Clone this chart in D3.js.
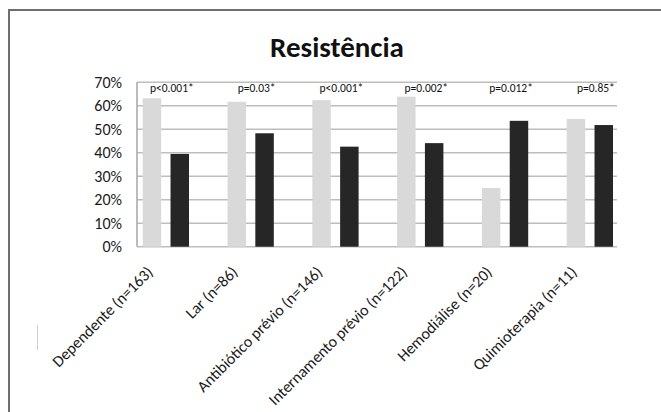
<!DOCTYPE html>
<html>
<head>
<meta charset="utf-8">
<script src="https://cdn.jsdelivr.net/npm/d3@7"></script>
<style>
  body { margin: 0; background: #fff; }
  svg { display: block; font-family: Carlito, 'Liberation Sans', Arial, sans-serif; }
</style>
</head>
<body>
<div id="chart"></div>
<script>
// data
const categories = ['Dependente (n=163)', 'Lar (n=86)', 'Antibiótico prévio (n=146)',
  'Internamento prévio (n=122)', 'Hemodiálise (n=20)', 'Quimioterapia (n=11)']
const seriesNames = ['com', 'sem']
const lightValues = [0.632, 0.617, 0.624, 0.639, 0.25, 0.544]
const darkValues = [0.395, 0.483, 0.426, 0.441, 0.536, 0.518]
const pValues = ['p<0.001*', 'p=0.03*', 'p<0.001*', 'p=0.002*', 'p=0.012*', 'p=0.85*']
const yTicks = [0, 0.1, 0.2, 0.3, 0.4, 0.5, 0.6, 0.7]

const width = 661
const height = 412
const plot = { left: 137, right: 617, top: 82.3, bottom: 246.7 }
const colors = { com: '#d9d9d9', sem: '#262626' }

const svg = d3.select('#chart')
  .append('svg')
  .attr('width', width)
  .attr('height', height)

// outer frame (top and left edges of the pasted chart)
svg.append('path')
  .attr('d', `M9,${height} V10 H${width}`)
  .attr('fill', 'none')
  .attr('stroke', '#6e6e6e')
  .attr('stroke-width', 2)

// stray mark on the left
svg.append('line')
  .attr('x1', 37.5).attr('x2', 37.5)
  .attr('y1', 325).attr('y2', 350)
  .attr('stroke', '#cfcfcf')
  .attr('stroke-width', 1)

svg.append('text')
  .attr('x', 337)
  .attr('y', 57)
  .attr('text-anchor', 'middle')
  .style('font-size', '29px')
  .style('font-weight', 700)
  .attr('fill', '#111')
  .text('Resistência')

const y = d3.scaleLinear().domain([0, 0.7]).range([plot.bottom, plot.top])

const x0 = d3.scaleBand()
  .domain(categories)
  .range([plot.left + 5.7, plot.right - 4])
  .paddingInner(0.454)
  .paddingOuter(0)

const x1 = d3.scaleBand()
  .domain(seriesNames)
  .range([0, x0.bandwidth()])
  .paddingInner(0.336)

// gridlines
svg.append('g')
  .selectAll('line')
  .data(yTicks)
  .enter()
  .append('line')
  .attr('x1', plot.left)
  .attr('x2', plot.right)
  .attr('y1', d => y(d))
  .attr('y2', d => y(d))
  .attr('stroke', '#bdbdbd')
  .attr('stroke-width', 1.5)

svg.append('line')
  .attr('x1', plot.left).attr('x2', plot.left)
  .attr('y1', y(0.7)).attr('y2', y(0))
  .attr('stroke', '#a6a6a6')
  .attr('stroke-width', 1.5)

// y tick labels
svg.append('g')
  .selectAll('text')
  .data(yTicks)
  .enter()
  .append('text')
  .attr('x', 122)
  .attr('y', d => y(d))
  .attr('dy', '0.35em')
  .attr('text-anchor', 'end')
  .style('font-size', '16px')
  .attr('fill', '#1a1a1a')
  .text(d => d3.format('.0%')(d))

const rows = categories.map((c, i) => ({
  category: c,
  values: [
    { key: 'com', value: lightValues[i] },
    { key: 'sem', value: darkValues[i] }
  ],
  p: pValues[i]
}))

const groups = svg.append('g')
  .selectAll('g')
  .data(rows)
  .enter()
  .append('g')
  .attr('transform', d => `translate(${x0(d.category)},0)`)

groups.selectAll('rect')
  .data(d => d.values)
  .enter()
  .append('rect')
  .attr('x', d => x1(d.key))
  .attr('width', x1.bandwidth())
  .attr('y', d => y(d.value))
  .attr('height', d => y(0) - y(d.value))
  .attr('fill', d => colors[d.key])

groups.append('text')
  .attr('x', x0.bandwidth() / 2 + 6)
  .attr('y', 92)
  .attr('text-anchor', 'middle')
  .style('font-size', '11.5px')
  .attr('fill', '#111')
  .text(d => d.p)

// rotated category labels
svg.append('g')
  .selectAll('text')
  .data(categories)
  .enter()
  .append('text')
  .attr('transform', d => `translate(${x0(d) + x0.bandwidth() / 2 - 12},273) rotate(-45)`)
  .attr('text-anchor', 'end')
  .style('font-size', '16px')
  .attr('fill', '#1a1a1a')
  .text(d => d)
</script>
</body>
</html>
